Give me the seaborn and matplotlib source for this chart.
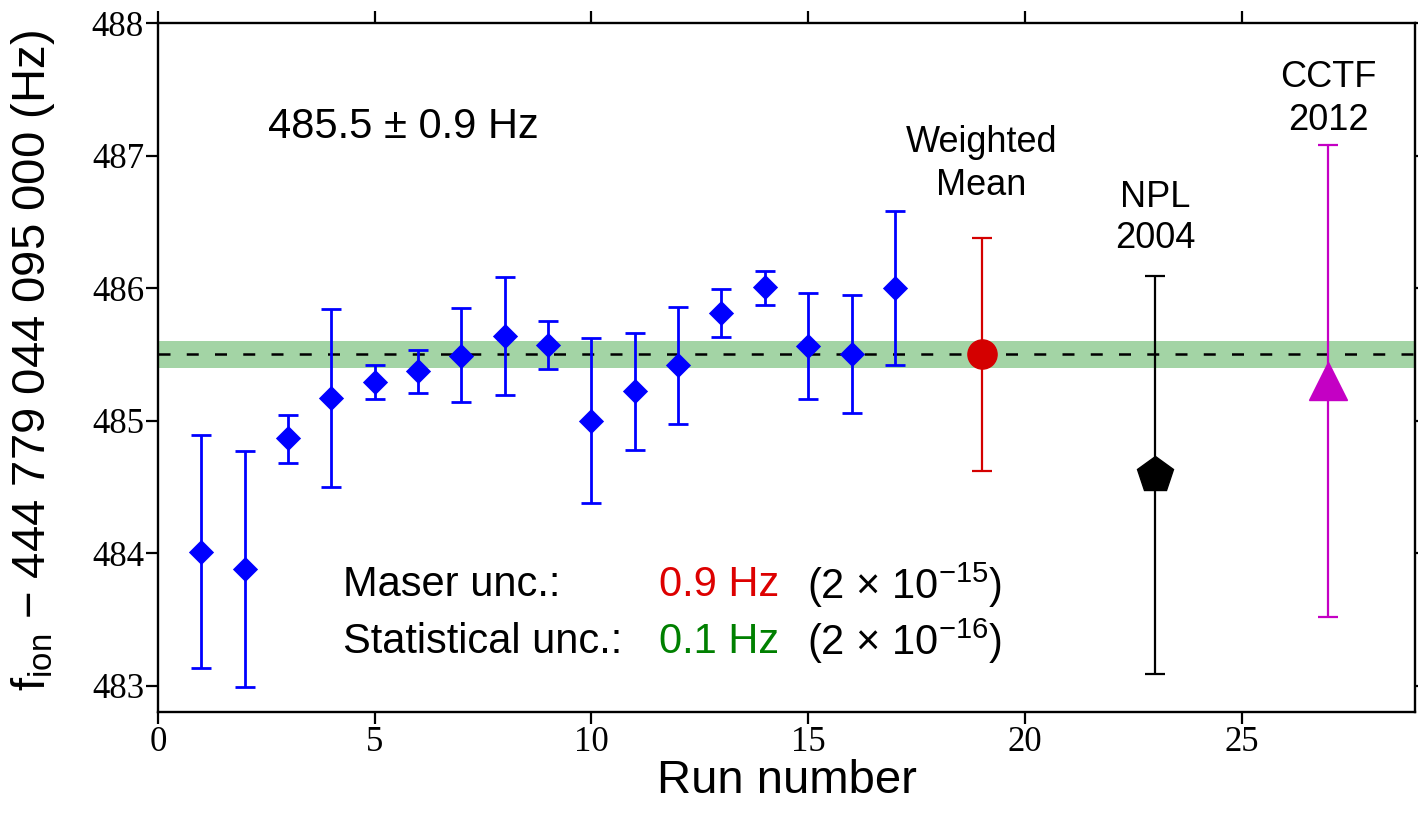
import numpy as np
import matplotlib
matplotlib.use("Agg")
import matplotlib.pyplot as plt
import seaborn as sns
import pandas as pd

# Run data (Hz offset from 444 779 044 095 000 Hz)
run = [1, 2, 3, 4, 5, 6, 7, 8, 9, 10, 11, 12, 13, 14, 15, 16, 17]
freq = [484.01, 483.88, 484.87, 485.17, 485.29, 485.37, 485.49, 485.64, 485.57,
        485.00, 485.22, 485.42, 485.81, 486.01, 485.56, 485.50, 486.00]
err_hi = [484.89, 484.77, 485.04, 485.84, 485.42, 485.53, 485.85, 486.08, 485.75,
          485.62, 485.66, 485.86, 485.99, 486.13, 485.96, 485.95, 486.58]
err_lo = [483.13, 482.99, 484.68, 484.50, 485.16, 485.21, 485.14, 485.19, 485.39,
          484.38, 484.78, 484.97, 485.63, 485.87, 485.16, 485.06, 485.42]

mean_x, mean_val, maser_unc, stat_unc = 19, 485.5, 0.88, 0.1
npl_x, npl_val, npl_unc = 23, 484.59, 1.5
cctf_x, cctf_val, cctf_unc = 27, 485.3, 1.78

df = pd.DataFrame({"run": run, "freq": freq})

sns.set_theme(style="ticks")
plt.rcParams['font.family'] = ['Liberation Sans', 'DejaVu Sans']
plt.rcParams['mathtext.fontset'] = 'custom'
plt.rcParams['mathtext.rm'] = 'Liberation Sans'
plt.rcParams['mathtext.it'] = 'Liberation Sans:italic'
for k in ['text.color', 'axes.labelcolor', 'xtick.color', 'ytick.color', 'axes.edgecolor']:
    plt.rcParams[k] = 'black'

fig = plt.figure(figsize=(14.18, 8.13), dpi=100)
ax = fig.add_axes([0.1114, 0.1242, 0.8865, 0.8475])

# weighted mean band + dashed line
ax.axhspan(mean_val - stat_unc, mean_val + stat_unc, color='#a3d4a5', lw=0, zorder=0)
ax.axhline(mean_val, color='black', ls=(0, (4.8, 6.5)), lw=1.8, zorder=1)

# runs
yerr = [np.array(freq) - np.array(err_lo), np.array(err_hi) - np.array(freq)]
ax.errorbar(run, freq, yerr=yerr, fmt='none', ecolor='#0000ff', elinewidth=2.0,
            capsize=7.5, capthick=2.0, zorder=2)
sns.scatterplot(data=df, x="run", y="freq", marker='D', s=165, color='#0000ff',
                edgecolor='#0000ff', linewidth=0, ax=ax, zorder=3)

# weighted mean, NPL, CCTF
ax.errorbar([mean_x], [mean_val], yerr=[maser_unc], fmt='o', color='#d40000',
            ms=21, elinewidth=1.6, capsize=7.5, capthick=1.6, zorder=3)
ax.errorbar([npl_x], [npl_val], yerr=[npl_unc], fmt='p', color='black',
            ms=27, elinewidth=1.6, capsize=7.5, capthick=1.6, zorder=3)
ax.errorbar([cctf_x], [cctf_val], yerr=[cctf_unc], fmt='^', color='#c400c4',
            ms=27, elinewidth=1.6, capsize=7.5, capthick=1.6, zorder=3)

ax.set_xlim(0, 29)
ax.set_ylim(482.8, 488)
ax.set_xticks([0, 5, 10, 15, 20, 25])
ax.set_yticks([483, 484, 485, 486, 487, 488])
ax.tick_params(direction='out', top=True, right=True, length=8.5, width=1.6,
               labelsize=25, labelfontfamily='Liberation Serif', pad=1.5,
               labeltop=False, labelright=False)
for s in ax.spines.values():
    s.set_linewidth(1.7)

ax.set_xlabel("Run number", fontsize=34, labelpad=0)
ax.set_ylabel("f$_{\\rm ion}$ − 444 779 044 095 000 (Hz)", fontsize=34)
ax.yaxis.set_label_coords(-0.080, 0.51)

# annotations
ax.text(2.53, 487.13, "485.5 ± 0.9 Hz", fontsize=30, va='baseline', ha='left')
for x, y, s in [(mean_x, 487.03, "Weighted"), (mean_x, 486.70, "Mean"),
                (npl_x, 486.61, "NPL"), (npl_x, 486.30, "2004"),
                (cctf_x, 487.52, "CCTF"), (cctf_x, 487.19, "2012")]:
    ax.text(x, y, s, fontsize=26, ha='center', va='baseline')

ax.text(4.26, 483.76, "Maser unc.:", fontsize=30, va='center')
ax.text(4.26, 483.33, "Statistical unc.:", fontsize=30, va='center')
ax.text(11.57, 483.76, "0.9 Hz", fontsize=30, va='center', color='#dd0000')
ax.text(11.57, 483.33, "0.1 Hz", fontsize=30, va='center', color='#008000')
ax.text(14.98, 483.76, "(2 × 10$^{−15}$)", fontsize=30, va='center')
ax.text(14.98, 483.33, "(2 × 10$^{−16}$)", fontsize=30, va='center')

fig.savefig("out.png", dpi=100)
